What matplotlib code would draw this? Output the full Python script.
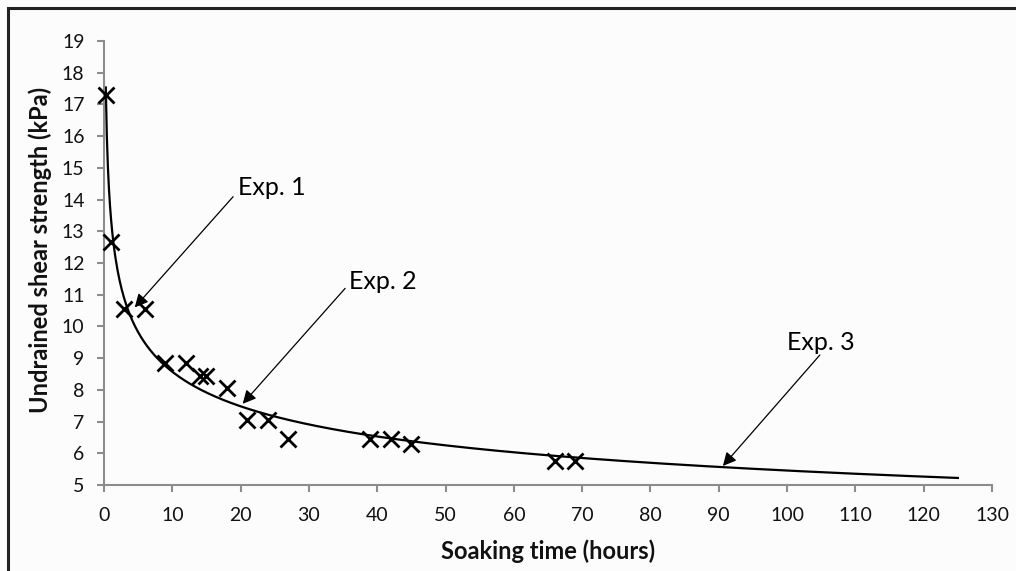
import numpy as np
import matplotlib
matplotlib.use("Agg")
import matplotlib.pyplot as plt
from matplotlib.patches import Rectangle

# ---- data ----
soak_hours = [0.25, 1, 3, 6, 9, 12, 14, 15, 18, 21, 24, 27, 39, 42, 45, 66, 69]
shear_kpa = [17.3, 12.65, 10.55, 10.55, 8.85, 8.85, 8.45, 8.45, 8.05, 7.05, 7.05,
             6.45, 6.45, 6.45, 6.3, 5.75, 5.75]
trend_x_range = [0.26, 125]

x_ticks = list(range(0, 131, 10))
y_ticks = list(range(5, 20))

annot_labels = ["Exp. 1", "Exp. 2", "Exp. 3"]
annot_text_xy = [(19.66, 14.15), (35.9, 11.18), (99.95, 9.26)]
annot_start_xy = [(18.9, 14.09), (35.3, 11.2), (104.8, 9.1)]
annot_tip_xy = [(4.5, 10.6), (20.3, 7.56), (90.6, 5.6)]

x_label = "Soaking time (hours)"
y_label = "Undrained shear strength (kPa)"

# ---- figure ----
plt.rcParams['font.family'] = ['Lato', 'DejaVu Sans']
W, H = 1016, 571
fig = plt.figure(figsize=(W / 100, H / 100), dpi=100, facecolor='#fcfcfc')
ax = fig.add_axes([104 / W, 1 - 485 / H, (992 - 104) / W, (485 - 41) / H])
ax.set_facecolor('#fcfcfc')

# power-law trendline fitted to the data (as Excel's power trendline)
b, ln_a = np.polyfit(np.log(soak_hours), np.log(shear_kpa), 1)
xs = np.linspace(trend_x_range[0], trend_x_range[1], 800)
ax.plot(xs, np.exp(ln_a) * xs ** b, color='black', lw=1.6, zorder=2)

ax.plot(soak_hours, shear_kpa, linestyle='none', marker='x', markersize=11,
        mew=2.0, color='black', zorder=3, clip_on=False)

for lab, txy, sxy, pxy in zip(annot_labels, annot_text_xy, annot_start_xy, annot_tip_xy):
    ax.text(txy[0], txy[1], lab, fontsize=18, ha='left', va='baseline', color='black')
    ax.annotate("", xy=pxy, xytext=sxy,
                arrowprops=dict(arrowstyle='-|>', color='black', lw=0.9,
                                mutation_scale=20, shrinkA=0, shrinkB=0))

ax.set_xlim(0, 130)
ax.set_ylim(5, 19)
ax.set_xticks(x_ticks)
ax.set_yticks(y_ticks)
ax.tick_params(axis='both', direction='out', length=5, width=1.5, color='#8c8c8c',
               labelsize=14, labelcolor='#111111')
ax.tick_params(axis='x', pad=11)
ax.tick_params(axis='y', pad=9)
for s in ['top', 'right']:
    ax.spines[s].set_visible(False)
for s in ['left', 'bottom']:
    ax.spines[s].set_color('#8c8c8c')
    ax.spines[s].set_linewidth(1.5)

fig.text(548 / W, 1 - 551 / H, x_label, fontsize=17, fontweight='bold',
         ha='center', va='center', color='#111111')
fig.text(40 / W, 1 - 250 / H, y_label, fontsize=17, fontweight='bold', rotation=90,
         ha='center', va='center', color='#111111')

# outer frame
fig.patches.append(Rectangle((8 / W, -0.05), 1.1, 1 - 8 / H + 0.05, transform=fig.transFigure,
                             fill=False, edgecolor='#222222', lw=2.2))

fig.savefig("out.png", dpi=100, facecolor=fig.get_facecolor())
